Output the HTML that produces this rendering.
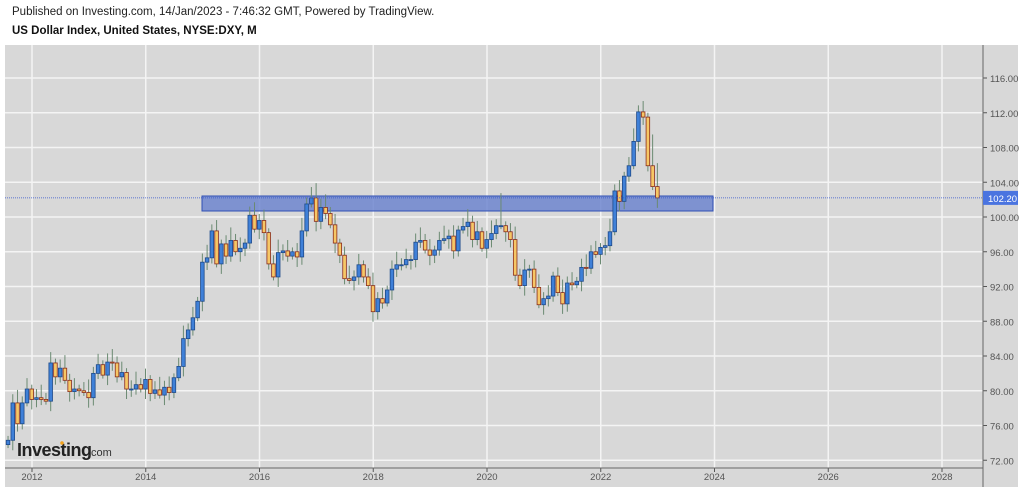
<!DOCTYPE html><html><head><meta charset="utf-8"><style>
body{margin:0;width:1024px;height:487px;background:#fff;font-family:"Liberation Sans",sans-serif;overflow:hidden;position:relative}
.t1{position:absolute;left:12px;top:6px;font-size:11.5px;color:#222}
.t2{position:absolute;left:12px;top:25px;font-size:11.5px;font-weight:bold;color:#111}
svg{position:absolute;left:0;top:0}
</style></head><body>
<div class="t1">Published on Investing.com, 14/Jan/2023 - 7:46:32 GMT, Powered by TradingView.</div>
<div class="t2">US Dollar Index, United States, NYSE:DXY, M</div>
<svg id="s" width="1024" height="487" xmlns="http://www.w3.org/2000/svg"></svg>
<script>
const s=document.getElementById('s');let h='';
const Y=v=>217-(v-100)*8.6875;
h+='<rect x="5" y="45" width="1013" height="442" fill="#d8d8d8"/>';
for(let v=72;v<=116;v+=4){const y=Y(v);h+=`<line x1="5" y1="${y}" x2="983" y2="${y}" stroke="#f4f4f4" stroke-width="1.5"/><line x1="983" y1="${y}" x2="987" y2="${y}" stroke="#555"/><text x="990" y="${y+4}" font-size="9.5" fill="#555">${v.toFixed(2)}</text>`;}
const yrs=[2012,2014,2016,2018,2020,2022,2024,2026,2028];
yrs.forEach((yr,i)=>{const x=32+i*113.75;h+=`<line x1="${x}" y1="45" x2="${x}" y2="468" stroke="#f4f4f4" stroke-width="1.5"/><line x1="${x}" y1="468" x2="${x}" y2="472" stroke="#555"/><text x="${x}" y="480" font-size="9.5" fill="#555" text-anchor="middle">${yr}</text>`});
h+='<line x1="983" y1="45" x2="983" y2="487" stroke="#666"/><line x1="5" y1="468" x2="983" y2="468" stroke="#666"/>';
h+=`<rect x="202" y="196" width="511" height="15" fill="#6f86cf" fill-opacity="0.85" stroke="#2f4fb5"/>`;
const c=[74.3,78.6,76.2,78.6,80.2,79.0,79.2,79.0,78.8,83.2,81.6,82.6,81.2,79.9,80.2,80.0,79.8,79.2,82.0,83.0,81.8,83.3,83.2,81.6,82.1,80.2,80.2,80.7,80.2,81.3,79.7,80.1,79.5,80.4,79.8,81.5,82.8,86.0,87.0,88.4,90.3,94.8,95.3,98.4,94.6,96.9,95.5,97.3,96.0,96.4,97.0,100.2,98.6,99.6,98.2,94.6,93.1,95.9,96.1,95.5,96.0,95.4,98.4,101.5,102.2,99.5,101.1,100.4,99.1,97.0,95.6,92.9,92.7,93.1,94.5,93.1,92.1,89.1,90.6,90.1,91.6,94.0,94.5,94.5,95.1,95.1,97.1,97.3,96.2,95.6,96.2,97.3,97.5,97.8,96.1,98.5,98.9,99.4,97.4,98.3,96.4,97.4,98.1,99.0,99.0,98.3,97.4,93.3,92.1,93.9,94.0,91.9,89.9,90.6,90.9,93.2,91.3,90.0,92.4,92.2,92.6,94.2,94.1,96.0,95.7,96.5,96.7,98.3,103.0,101.8,104.7,105.9,108.7,112.1,111.5,105.9,103.5,102.2];
const pw=113.75/24;let o=73.8;
c.forEach((cl,i)=>{const x=27+(i-4)*pw;const hi=Math.max(o,cl)+0.5+((i*7)%5)*0.25+(i==136?2.6:0)+(i==137?1.2:0)+(i==65?1.2:0)+(i==104?2.5:0);const lo=Math.min(o,cl)-0.4-((i*3)%4)*0.25;
const up=cl>=o;const t=Y(Math.max(o,cl)),b=Y(Math.min(o,cl));
h+=`<line x1="${x}" y1="${Y(hi)}" x2="${x}" y2="${Y(lo)}" stroke="#6b8a72" stroke-width="1"/>`;
h+=`<rect x="${x-1.8}" y="${t}" width="3.6" height="${Math.max(1,b-t)}" fill="${up?'#3f80d8':'#f6c766'}" stroke="${up?'#1e4a8a':'#8a2c1c'}" stroke-width="0.8"/>`;o=cl;});
h+=`<line x1="5" y1="${Y(102.2)}" x2="983" y2="${Y(102.2)}" stroke="#3355cc" stroke-width="0.8" stroke-dasharray="1,1"/>`;
h+=`<rect x="983" y="${Y(102.2)-7}" width="35" height="14" fill="#4a74e0"/><text x="988" y="${Y(102.2)+4}" font-size="9.5" fill="#fff">102.20</text>`;
h+='<text x="17" y="456" font-size="18" font-weight="bold" fill="#222" letter-spacing="-0.5">Investing</text><text x="88" y="456" font-size="11" fill="#333">.com</text><circle cx="62" cy="443" r="1.8" fill="#f3a21b"/>';
s.innerHTML=h;
</script></body></html>
